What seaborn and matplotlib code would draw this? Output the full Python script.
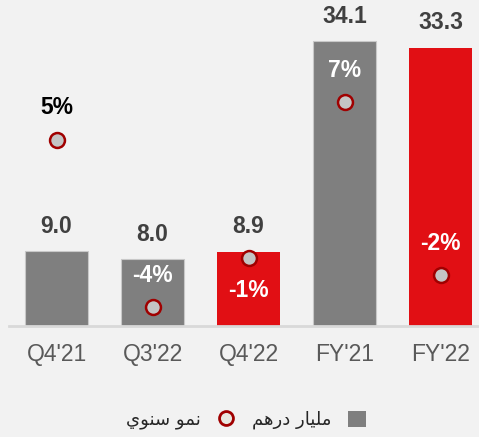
import numpy as np
import matplotlib
matplotlib.use('Agg')
import matplotlib.pyplot as plt
from matplotlib.lines import Line2D
from matplotlib.patches import Patch
import seaborn as sns

# data
periods = ["Q4'21", "Q3'22", "Q4'22", "FY'21", "FY'22"]
revenue = [9.0, 8.0, 8.9, 34.1, 33.3]          # bn AED
growth = [5.1, -3.8, -1.2, 7.1, -2.1]          # yoy %
growth_labels = ['5%', '-4%', '-1%', '7%', '-2%']
bar_colors = ['#7f7f7f', '#7f7f7f', '#e10f14', '#7f7f7f', '#e10f14']
legend_bars = 'مليار درهم'
legend_growth = 'نمو سنوي'

# matplotlib does no arabic shaping, so pick presentation forms by hand
FORMS = {
    'ا': ('\uFE8D', '\uFE8E', None, None),
    'د': ('\uFEA9', '\uFEAA', None, None),
    'ر': ('\uFEAD', '\uFEAE', None, None),
    'و': ('\uFEED', '\uFEEE', None, None),
    'م': ('\uFEE1', '\uFEE2', '\uFEE3', '\uFEE4'),
    'ل': ('\uFEDD', '\uFEDE', '\uFEDF', '\uFEE0'),
    'ي': ('\uFEF1', '\uFEF2', '\uFEF3', '\uFEF4'),
    'ه': ('\uFEE9', '\uFEEA', '\uFEEB', '\uFEEC'),
    'ن': ('\uFEE5', '\uFEE6', '\uFEE7', '\uFEE8'),
    'س': ('\uFEB1', '\uFEB2', '\uFEB3', '\uFEB4'),
}


def shape_ar(text):
    out = []
    for i, ch in enumerate(text):
        if ch not in FORMS:
            out.append(ch)
            continue
        prev = i > 0 and text[i - 1] in FORMS and FORMS[text[i - 1]][2] is not None
        nxt = i < len(text) - 1 and text[i + 1] in FORMS and FORMS[ch][2] is not None
        if prev and nxt:
            out.append(FORMS[ch][3])
        elif prev:
            out.append(FORMS[ch][1])
        elif nxt:
            out.append(FORMS[ch][2])
        else:
            out.append(FORMS[ch][0])
    return ''.join(out)[::-1]


sns.set_theme(style='white')
plt.rcParams['font.family'] = ['Liberation Sans', 'DejaVu Sans']
bg = '#f2f2f2'

fig = plt.figure(figsize=(4.79, 4.37), dpi=100, facecolor=bg)
W, H = 479, 437
ax = fig.add_axes([8.5 / W, (H - 326) / H, (W - 8.5) / W, 316 / H])
ax.set_facecolor('none')

x_pos = np.arange(len(periods))
sns.barplot(x=x_pos, y=revenue, hue=x_pos, palette=bar_colors, width=0.66,
            legend=False, saturation=1, ax=ax)
for p, c in zip(sorted(ax.patches, key=lambda r: r.get_x()), bar_colors):
    if c == '#7f7f7f':
        p.set_edgecolor('#c8c8c8')
        p.set_linewidth(0.8)
    else:
        p.set_linewidth(0)

for cont in ax.containers:
    ax.bar_label(cont, fmt='%.1f', padding=9.5, fontsize=16.5, fontweight='bold',
                 color='#404040')

ax.set_xlim(-0.5, 4.4)
ax.set_ylim(0, 37.8)
ax.set_xticks(x_pos)
ax.set_xticklabels(periods, fontsize=16.5, color='#595959')
ax.tick_params(axis='x', length=0, pad=12.5)
ax.set_yticks([])
ax.set_xlabel('')
ax.set_ylabel('')
for s in ['top', 'right', 'left']:
    ax.spines[s].set_visible(False)
ax.spines['bottom'].set_color('#d9d9d9')
ax.spines['bottom'].set_linewidth(2)

ax2 = ax.twinx()
ax2.set_ylim(-4.8, 12.0)
sns.scatterplot(x=x_pos, y=growth, ax=ax2, marker='o', s=115, color='#c4c4c4',
                edgecolor='#a00000', linewidth=1.8, zorder=5, legend=False)
for i, (g, lab) in enumerate(zip(growth, growth_labels)):
    above = i != 2
    txt_color = '#000000' if i == 0 else 'white'
    ax2.annotate(lab, (x_pos[i], g), xytext=(0, 23 if above else -23),
                 textcoords='offset points', ha='center', va='center',
                 fontsize=16.5, fontweight='bold', color=txt_color)
ax2.set_yticks([])
ax2.set_ylabel('')
for s in ax2.spines.values():
    s.set_visible(False)

handles = [
    Line2D([], [], marker='o', linestyle='none', markersize=10,
           markerfacecolor='#e8e8e0', markeredgecolor='#a00000', markeredgewidth=2),
    Patch(facecolor='#7f7f7f', edgecolor='none'),
]
labels = [shape_ar(legend_growth), shape_ar(legend_bars)]
fig.legend(handles, labels, loc='center', bbox_to_anchor=(0.514, 0.039), ncol=2,
           markerfirst=False, frameon=False, handlelength=1.0, handleheight=1.0,
           columnspacing=0.95, handletextpad=0.9,
           prop={'family': 'DejaVu Sans', 'size': 13})

fig.savefig('out.png', dpi=100, facecolor=bg)
